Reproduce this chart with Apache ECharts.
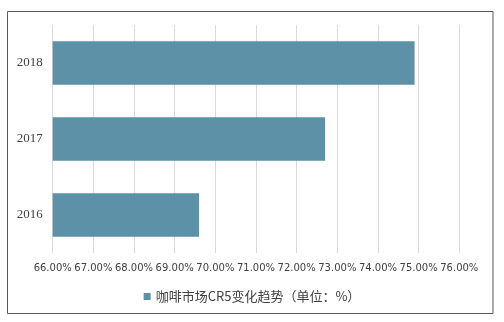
<!DOCTYPE html>
<html><head><meta charset="utf-8">
<script src="https://cdn.jsdelivr.net/npm/echarts@6/dist/echarts.min.js"></script>
<style>html,body{margin:0;padding:0;background:#fff}#c{width:504px;height:322px}</style>
</head><body><div id="c"></div>
<script>
const categories = ['2016', '2017', '2018'];
const values = [69.6, 72.7, 74.9];
const seriesName = '咖啡市场CR5变化趋势（单位：%）';
const xMin = 66, xMax = 76, xStep = 1;

const chart = echarts.init(document.getElementById('c'), null, {renderer: 'canvas'});
chart.setOption({
  animation: false,
  graphic: [{type: 'rect', shape: {x: 7.5, y: 11.5, width: 485.5, height: 302}, style: {fill: 'none', stroke: '#595959', lineWidth: 1}, z: -1}],
  grid: {left: 52.7, right: 504 - 459.3, top: 25, bottom: 322 - 253},
  legend: {
    data: [seriesName], bottom: 14, left: 'center', itemWidth: 7, itemHeight: 7, itemGap: 4,
    icon: 'rect',
    textStyle: {fontFamily: 'Noto Sans CJK SC', fontSize: 13, color: '#404040'}
  },
  xAxis: {
    type: 'value', min: xMin, max: xMax, interval: xStep,
    axisLine: {show: false}, axisTick: {show: false},
    splitLine: {lineStyle: {color: '#d9d9d9', width: 1}},
    axisLabel: {formatter: v => v.toFixed(2) + '%', fontFamily: 'DejaVu Sans', fontSize: 10, color: '#404040', margin: 10, letterSpacing: -0.3}
  },
  yAxis: {
    type: 'category', data: categories,
    axisLine: {show: false}, axisTick: {show: false},
    axisLabel: {fontFamily: 'Liberation Serif', fontSize: 13, color: '#404040', margin: 10}
  },
  series: [{
    name: seriesName, type: 'bar', data: values, barCategoryGap: '43%',
    itemStyle: {color: '#5d91a7'}
  }]
});
</script></body></html>
